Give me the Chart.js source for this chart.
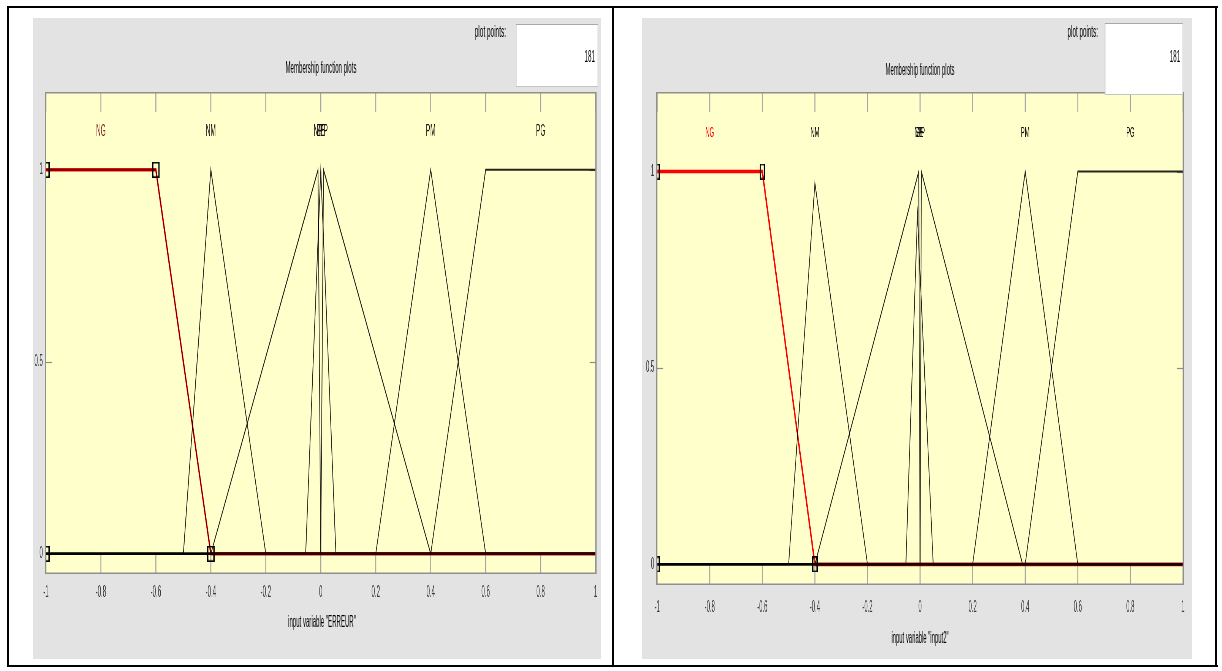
<!DOCTYPE html>
<html>
<head>
<meta charset="utf-8">
<script src="https://cdn.jsdelivr.net/npm/chart.js@4.4.1/dist/chart.umd.min.js"></script>
<style>
  html, body { margin: 0; padding: 0; background: #fff; }
  body { width: 1222px; height: 671px; position: relative; overflow: hidden;
         font-family: "Liberation Sans", Arial, sans-serif; }
  .rule { position: absolute; background: #000; }
  .panel { position: absolute; background: #e3e3e3; transform-origin: 0 0; }
  .txt { position: absolute; white-space: nowrap; color: #000; line-height: 1;
         filter: grayscale(1); -webkit-font-smoothing: antialiased; }
  .edit { position: absolute; background: #fff; border: 1px solid #c4c4c4;
          border-top-color: #a8a8a8; border-left-color: #a8a8a8; box-sizing: border-box; }
</style>
</head>
<body>
<div class="rule" style="left:7px;top:6px;width:1211px;height:2px"></div>
<div class="rule" style="left:7px;top:665px;width:1211px;height:2px"></div>
<div class="rule" style="left:7px;top:6px;width:2px;height:661px"></div>
<div class="rule" style="left:612px;top:6px;width:2px;height:661px"></div>
<div class="rule" style="left:1215px;top:6px;width:2px;height:661px"></div>

<script>
// ---- shared axis values ----
const xTickValues = [-1, -0.8, -0.6, -0.4, -0.2, 0, 0.2, 0.4, 0.6, 0.8, 1];
const yTickValues = [0, 0.5, 1];
const mfNames = ['NG', 'NM', 'NP', 'ZE', 'PP', 'PM', 'PG'];
const labelLevel = 1.1;
const plotPoints = 181;

// ---- input variable "ERREUR": membership function vertices ----
const erreurMfX = [
  [-1, -0.6, -0.4, 1],
  [-1, -0.5, -0.4, -0.2, 1],
  [-1, -0.4, -0.01, 0, 1],
  [-1, -0.055, 0, 0.055, 1],
  [-1, 0, 0.01, 0.4, 1],
  [-1, 0.2, 0.4, 0.6, 1],
  [-1, 0.4, 0.6, 1]
];
const erreurMfY = [
  [1, 1, 0, 0],
  [0, 0, 1, 0, 0],
  [0, 0, 1, 0, 0],
  [0, 0, 1, 0, 0],
  [0, 0, 1, 0, 0],
  [0, 0, 1, 0, 0],
  [0, 0, 1, 1]
];
const erreurLabelX = [-0.8, -0.4, -0.01, 0, 0.01, 0.4, 0.8];
const erreurHandleX = [-1, -1, -0.6, -0.4];
const erreurHandleY = [0, 1, 1, 0];

// ---- input variable "input2": membership function vertices ----
const input2MfX = [
  [-1, -0.6, -0.4, 1],
  [-1, -0.5, -0.4, -0.2, 1],
  [-1, -0.4, -0.005, 0, 1],
  [-1, -0.054, -0.01, 0.05, 1],
  [-1, 0, 0.005, 0.39, 1],
  [-1, 0.2, 0.4, 0.6, 1],
  [-1, 0.4, 0.6, 1]
];
const input2MfY = [
  [1, 1, 0, 0],
  [0, 0, 0.97, 0, 0],
  [0, 0, 1, 0, 0],
  [0, 0, 0.89, 0, 0],
  [0, 0, 1, 0, 0],
  [0, 0, 1, 0, 0],
  [0, 0, 1, 1]
];
const input2LabelX = [-0.8, -0.4, -0.006, -0.002, 0.004, 0.4, 0.8];
const input2HandleX = [-1, -1, -0.6, -0.4];
const input2HandleY = [0, 1, 1, 0];

// ---- layout of the two editor panels (page pixels) ----
const panels = [
  {
    varName: 'ERREUR', mfX: erreurMfX, mfY: erreurMfY, labelX: erreurLabelX,
    handleX: erreurHandleX, handleY: erreurHandleY,
    squash: 0.38, panelLeft: 33, panelRight: 601, panelTop: 18, panelBottom: 659,
    plotLeft: 46, plotRight: 598, plotTop: 93, plotBottom: 573,
    titleX: 321, titleY: 68, ppRight: 506, ppY: 31, box: [516, 24, 598, 87], numY: 55,
    axisTitleY: 622, tickPad: 10, mfFont: 17, handleW: 20, selectedLabel: '#7a1f1f', outlineSelected: true
  },
  {
    varName: 'input2', mfX: input2MfX, mfY: input2MfY, labelX: input2LabelX,
    handleX: input2HandleX, handleY: input2HandleY,
    squash: 0.37, panelLeft: 642, panelRight: 1192, panelTop: 18, panelBottom: 659,
    plotLeft: 657, plotRight: 1183, plotTop: 93, plotBottom: 584,
    titleX: 920, titleY: 70, ppRight: 1098, ppY: 31, box: [1105, 23, 1183, 95], numY: 55,
    axisTitleY: 638, tickPad: 14, mfFont: 15.5, handleW: 15, selectedLabel: '#ff0000', outlineSelected: false
  }
];

const FONT = '"Liberation Sans", Arial, sans-serif';

// handle glyph drawn in unsquashed units
function handleGlyph(w) {
  const c = document.createElement('canvas');
  c.width = w; c.height = 16;
  const g = c.getContext('2d');
  g.fillStyle = '#000';
  g.fillRect(0, 0, 3.5, 16);
  g.fillRect(w - 3.5, 0, 3.5, 16);
  g.fillRect(0, 0, w, 1.6);
  g.fillRect(0, 14.4, w, 1.6);
  return c;
}

const editorDecor = {
  id: 'editorDecor',
  beforeDraw(chart, args, o) {
    const { ctx, chartArea: a } = chart;
    ctx.save();
    ctx.fillStyle = '#ffffcc';
    ctx.fillRect(a.left, a.top, a.right - a.left, a.bottom - a.top);
    ctx.restore();
  },
  beforeDatasetsDraw(chart, args, o) {
    const { ctx, chartArea: a, scales } = chart;
    const seg = (x1, y1, x2, y2) => { ctx.beginPath(); ctx.moveTo(x1, y1); ctx.lineTo(x2, y2); ctx.stroke(); };
    ctx.save();
    ctx.strokeStyle = '#a6a6a6';
    ctx.lineWidth = 2.6;
    scales.x.ticks.forEach(t => {
      const px = scales.x.getPixelForValue(t.value);
      seg(px, a.top, px, a.top + o.xTickLen);
      seg(px, a.bottom, px, a.bottom - o.xTickLen);
    });
    ctx.strokeStyle = '#8c8c8c';
    ctx.lineWidth = 1.2;
    scales.y.ticks.forEach(t => {
      const py = Math.round(scales.y.getPixelForValue(t.value)) + 0.5;
      seg(a.left, py, a.left + o.yTickLen, py);
      seg(a.right, py, a.right - o.yTickLen, py);
    });
    ctx.restore();
  },
  afterDatasetsDraw(chart, args, o) {
    const { ctx, chartArea: a, scales } = chart;
    ctx.save();
    // plot box
    ctx.fillStyle = '#8f8f8f';
    ctx.fillRect(a.left - 1, a.top - 1, a.right - a.left + 2, 1.5);
    ctx.fillRect(a.left - 1, a.bottom - 0.5, a.right - a.left + 2, 1.5);
    ctx.fillRect(a.left - 3, a.top - 1, 3.5, a.bottom - a.top + 2);
    ctx.fillRect(a.right - 1, a.top - 1, 3.5, a.bottom - a.top + 2);
    // membership function names
    ctx.font = `${o.mfFont}px ${FONT}`;
    ctx.textAlign = 'center';
    ctx.textBaseline = 'middle';
    const py = scales.y.getPixelForValue(labelLevel);
    mfNames.forEach((name, i) => {
      ctx.fillStyle = i === 0 ? o.selectedLabel : '#111';
      ctx.fillText(name, scales.x.getPixelForValue(o.labelX[i]), py);
    });
    ctx.restore();
  }
};

function addText(parent, text, x, y, align, size) {
  const d = document.createElement('div');
  d.className = 'txt';
  d.textContent = text;
  d.style.fontSize = size + 'px';
  d.style.top = (y - size / 2) + 'px';
  if (align === 'center') { d.style.left = x + 'px'; d.style.transform = 'translateX(-50%)'; }
  else { d.style.right = x + 'px'; }
  parent.appendChild(d);
  return d;
}

panels.forEach(cfg => {
  const s = cfg.squash;
  const W = Math.round((cfg.panelRight - cfg.panelLeft) / s);
  const H = cfg.panelBottom - cfg.panelTop;
  const ux = px => (px - cfg.panelLeft) / s;

  const panel = document.createElement('div');
  panel.className = 'panel';
  panel.style.cssText = `left:${cfg.panelLeft}px;top:${cfg.panelTop}px;width:${W}px;height:${H}px;transform:scaleX(${s});`;
  document.body.appendChild(panel);

  const wrap = document.createElement('div');
  wrap.style.cssText = `position:absolute;left:0;top:0;width:${W}px;height:${H}px;`;
  const canvas = document.createElement('canvas');
  wrap.appendChild(canvas);
  panel.appendChild(wrap);

  // header and footer text
  addText(panel, 'Membership function plots', ux(cfg.titleX), cfg.titleY - cfg.panelTop, 'center', 16);
  addText(panel, 'plot points:', W - ux(cfg.ppRight), cfg.ppY - cfg.panelTop, 'right', 17);
  const [bx0, by0, bx1, by1] = cfg.box;
  const box = document.createElement('div');
  box.className = 'edit';
  box.style.cssText = `left:${ux(bx0)}px;top:${by0 - cfg.panelTop}px;width:${(bx1 - bx0) / s}px;height:${by1 - by0}px;`;
  panel.appendChild(box);
  addText(box, String(plotPoints), 7, cfg.numY - by0, 'right', 16.5);
  addText(panel, `input variable "${cfg.varName}"`, (ux(cfg.plotLeft) + ux(cfg.plotRight)) / 2,
          cfg.axisTitleY - cfg.panelTop, 'center', 16);

  const yAxisW = Math.round(ux(cfg.plotLeft));
  const padRight = W - Math.round(ux(cfg.plotRight));
  const padTop = cfg.plotTop - cfg.panelTop;
  const xAxisH = cfg.panelBottom - cfg.plotBottom;

  const glyph = handleGlyph(cfg.handleW);
  const datasets = [];
  cfg.mfX.forEach((xs, i) => {
    const selected = i === 0;
    datasets.push({
      label: mfNames[i],
      data: xs.map((x, j) => ({ x, y: cfg.mfY[i][j] })),
      showLine: true,
      borderColor: selected ? '#ff0000' : 'rgba(0,0,0,0.85)',
      borderWidth: selected ? 3.6 : 2,
      pointRadius: 0,
      order: selected ? 3 : 2
    });
  });
  if (cfg.outlineSelected) {
    datasets.push({
      label: mfNames[0] + ' outline',
      data: cfg.mfX[0].map((x, j) => ({ x, y: cfg.mfY[0][j] })),
      showLine: true, borderColor: '#2a0000', borderWidth: 1.3, pointRadius: 0, order: 1
    });
  }
  datasets.push({
    label: 'handles',
    data: cfg.handleX.map((x, j) => ({ x, y: cfg.handleY[j] })),
    showLine: false,
    pointStyle: glyph,
    pointRadius: 8,
    clip: 0,
    order: 0
  });

  new Chart(canvas, {
    type: 'scatter',
    data: { datasets },
    options: {
      responsive: true,
      maintainAspectRatio: false,
      devicePixelRatio: 1,
      animation: false,
      events: [],
      layout: { padding: { top: padTop, right: padRight, left: 0, bottom: 0 } },
      plugins: {
        legend: { display: false },
        tooltip: { enabled: false },
        editorDecor: { xTickLen: 19, yTickLen: 6 / s, mfFont: cfg.mfFont,
                       selectedLabel: cfg.selectedLabel, labelX: cfg.labelX }
      },
      scales: {
        x: {
          type: 'linear', min: -1, max: 1,
          afterBuildTicks: sc => { sc.ticks = xTickValues.map(v => ({ value: v })); },
          afterFit: sc => { sc.height = xAxisH; },
          grid: { display: false, drawTicks: false },
          border: { display: false },
          ticks: { autoSkip: false, maxRotation: 0, padding: cfg.tickPad, color: '#3c3c3c',
                   font: { size: 16, family: FONT }, callback: v => String(v) }
        },
        y: {
          type: 'linear', min: -0.05, max: 1.2,
          afterBuildTicks: sc => { sc.ticks = yTickValues.map(v => ({ value: v })); },
          afterFit: sc => { sc.width = yAxisW; },
          grid: { display: false, drawTicks: false },
          border: { display: false },
          ticks: { padding: 8, color: '#3c3c3c', font: { size: 16, family: FONT },
                   callback: v => String(v) }
        }
      }
    },
    plugins: [editorDecor]
  });
});
</script>
</body>
</html>
